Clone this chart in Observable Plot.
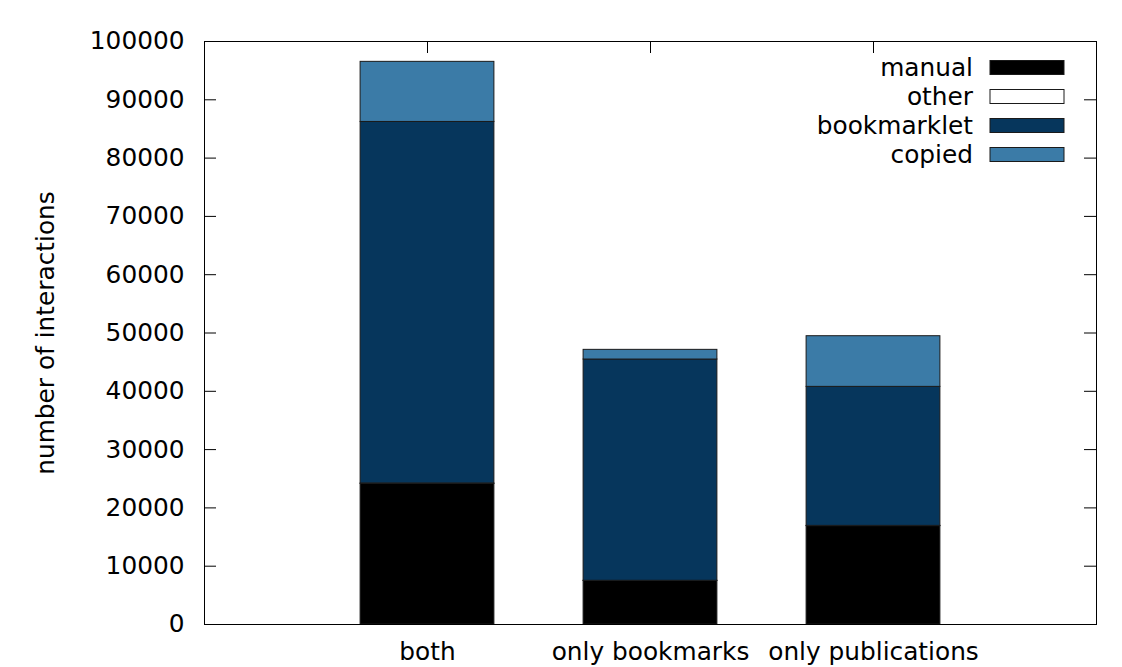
<!DOCTYPE html>
<html>
<head>
<meta charset="utf-8">
<script src="https://cdn.jsdelivr.net/npm/d3@7"></script>
<script src="https://cdn.jsdelivr.net/npm/@observablehq/plot@0.6"></script>
<style>
  body { margin: 0; background: #fff; }
  #chart svg { display: block; }
</style>
</head>
<body>
<div id="chart"></div>
<script>
// Interactions per user group, split by how the post was created
const categories = ["both", "only bookmarks", "only publications"];
const series = ["manual", "other", "bookmarklet", "copied"];
const manual = [24100, 7470, 16870];
const other = [100, 30, 50];
const bookmarklet = [62000, 37950, 23840];
const copied = [10310, 1660, 8690];
const colors = ["#000000", "#ffffff", "#06365c", "#3b7ba7"];
const yTicks = [0, 10000, 20000, 30000, 40000, 50000, 60000, 70000, 80000, 90000, 100000];

const W = 1122, H = 667;
const M = {left: 204, right: 26, top: 41, bottom: 43};
const innerW = W - M.left - M.right;
const innerH = H - M.top - M.bottom;
const barHalf = 0.3;
const tickLen = 12;
const font = "DejaVu Sans, Liberation Sans, sans-serif";
const fs = 24.8;

// stacked segments, bottom to top in series order
const valuesBySeries = [manual, other, bookmarklet, copied];
const rows = [];
categories.forEach((c, i) => {
  let base = 0;
  series.forEach((s, k) => {
    const v = valuesBySeries[k][i];
    rows.push({pos: i, series: s, y1: base, y2: base + v});
    base += v;
  });
});

const catIdx = categories.map((c, i) => i);

const plot = Plot.plot({
  width: W,
  height: H,
  marginLeft: M.left,
  marginRight: M.right,
  marginTop: M.top,
  marginBottom: M.bottom,
  style: {fontFamily: font, fontSize: fs + "px", color: "#000", background: "#fff"},
  x: {type: "linear", domain: [-1, 3]},
  y: {domain: [0, 100000]},
  color: {domain: series, range: colors},
  marks: [
    // inward tick marks on all four sides
    Plot.tickY(yTicks, {y: d => d, stroke: "#000", insetRight: innerW - tickLen}),
    Plot.tickY(yTicks, {y: d => d, stroke: "#000", insetLeft: innerW - tickLen}),
    Plot.tickX(catIdx, {x: d => d, stroke: "#000", insetBottom: innerH - tickLen}),
    Plot.tickX(catIdx, {x: d => d, stroke: "#000", insetTop: innerH - tickLen}),
    Plot.rect(rows, {
      x1: d => d.pos - barHalf,
      x2: d => d.pos + barHalf,
      y1: "y1",
      y2: "y2",
      fill: "series",
      stroke: "#1a1a1a",
      strokeWidth: 1
    }),
    Plot.axisY(yTicks, {
      anchor: "left",
      tickSize: 0,
      tickPadding: 20,
      tickFormat: d3.format("d"),
      label: "number of interactions",
      labelAnchor: "center",
      labelArrow: "none",
      labelOffset: 168,
      fontSize: fs
    }),
    Plot.axisX(catIdx, {
      anchor: "bottom",
      tickSize: 0,
      tickPadding: 18,
      tickFormat: i => categories[i],
      label: null,
      fontSize: fs
    }),
    Plot.frame({stroke: "#000", strokeWidth: 1})
  ]
});

document.getElementById("chart").appendChild(plot);

// key inside the upper right corner of the frame
const svg = d3.select(plot);
const legend = svg.append("g").attr("font-family", font).attr("font-size", fs);
const keyX = 990, keyW = 74, keyH = 14, textX = 973, rowY0 = 67.5, rowStep = 29;
series.forEach((s, k) => {
  const cy = rowY0 + k * rowStep;
  legend.append("text")
    .attr("x", textX).attr("y", cy)
    .attr("text-anchor", "end")
    .attr("dy", "0.35em")
    .attr("fill", "#000")
    .text(s);
  legend.append("rect")
    .attr("x", keyX).attr("y", cy - keyH / 2)
    .attr("width", keyW).attr("height", keyH)
    .attr("fill", colors[k])
    .attr("stroke", "#1a1a1a")
    .attr("stroke-width", 1);
});
</script>
</body>
</html>
